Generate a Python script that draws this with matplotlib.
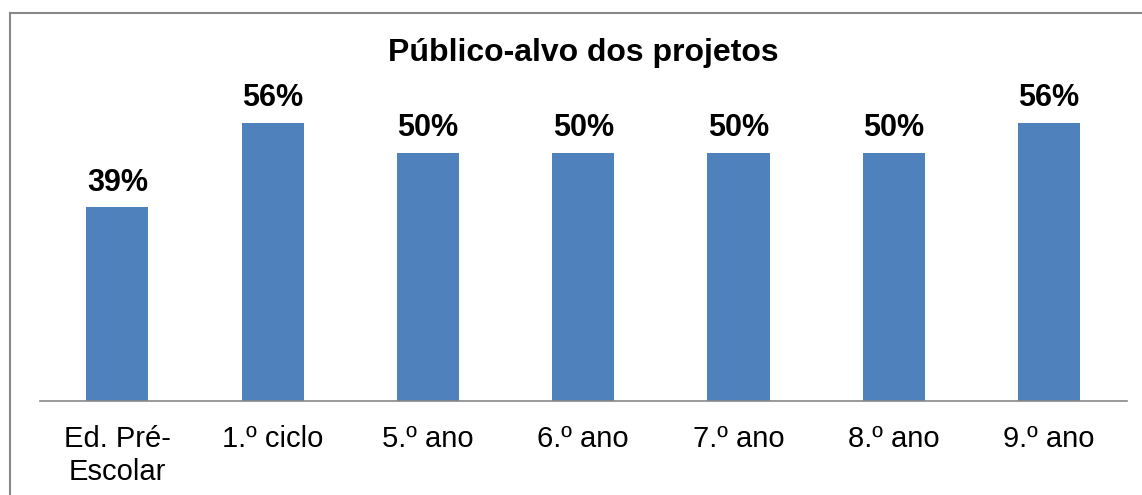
import matplotlib
matplotlib.use("Agg")
from matplotlib import pyplot as plt
from matplotlib.lines import Line2D

categorias = ["Ed. Pré-\nEscolar", "1.º ciclo", "5.º ano", "6.º ano", "7.º ano", "8.º ano", "9.º ano"]
percentagens = [39, 56, 50, 50, 50, 50, 56]
rotulos = ["39%", "56%", "50%", "50%", "50%", "50%", "56%"]

plt.rcParams['font.family'] = ['Liberation Sans', 'DejaVu Sans']

fig = plt.figure(figsize=(11.42, 4.95), dpi=100)
ax = fig.add_axes([0.0347, 0.19, 0.952, 0.602])

x = range(len(categorias))
barras = ax.bar(x, percentagens, width=0.4, color="#4F81BD")

for b, txt in zip(barras, rotulos):
    ax.annotate(txt, (b.get_x() + b.get_width() / 2, b.get_height()),
                xytext=(0, 7), textcoords="offset points",
                ha="center", va="bottom", fontsize=22, fontweight="bold")

ax.set_xlim(-0.5, len(categorias) - 0.5)
ax.set_ylim(0, 60)
ax.set_xticks(list(x))
ax.set_xticklabels(categorias, fontsize=21, linespacing=1.25)
ax.tick_params(axis="x", length=0, pad=17)
ax.set_yticks([])
for lado in ["top", "right", "left"]:
    ax.spines[lado].set_visible(False)
ax.spines["bottom"].set_color("#888888")
ax.spines["bottom"].set_linewidth(1.2)

fig.text(0.5105, 0.893, "Público-alvo dos projetos", ha="center", va="center",
         fontsize=23, fontweight="bold")

# moldura do gráfico (cortada à direita e em baixo)
x0 = 9.5 / 1142
y0 = 1 - 12.5 / 495
fig.add_artist(Line2D([x0, x0], [0, y0], color="#888888", lw=1.5, transform=fig.transFigure))
fig.add_artist(Line2D([x0, 1], [y0, y0], color="#888888", lw=1.5, transform=fig.transFigure))

plt.savefig("out.png", dpi=100)
